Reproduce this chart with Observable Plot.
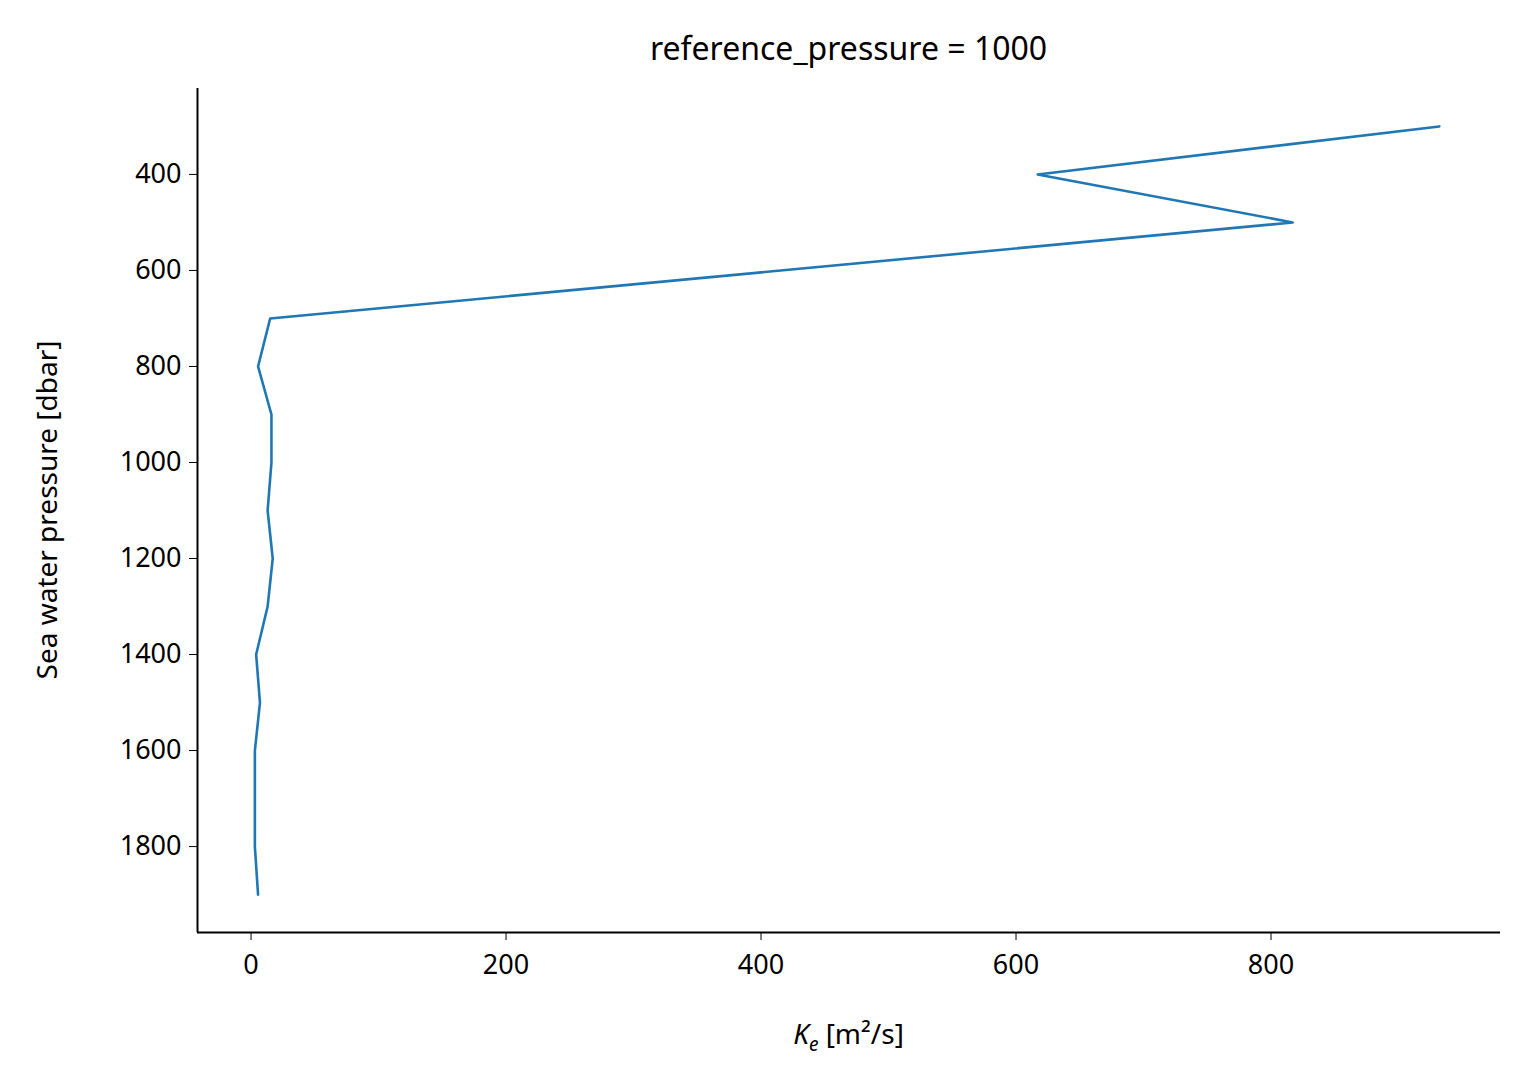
<!DOCTYPE html>
<html><head><meta charset="utf-8">
<script src="https://cdn.jsdelivr.net/npm/d3@7"></script>
<script src="https://cdn.jsdelivr.net/npm/@observablehq/plot@0.6"></script>
<style>
body{margin:0;background:#fff;font-family:"Noto Sans",sans-serif;}
#wrap{position:relative;width:1526px;height:1085px;}
.t{position:absolute;color:#000;white-space:nowrap;}
</style></head><body>
<div id="wrap">
<div class="t" id="title" style="left:0;width:1697px;text-align:center;top:26px;font-size:32px;">reference_pressure = 1000</div>
<div class="t" style="left:0;width:1697px;text-align:center;top:1014px;font-size:28px;"><i>K</i><sub style="font-size:19px;"><i>e</i></sub> [m²/s]</div>
<div class="t" style="left:46px;top:510px;font-size:28px;transform:translate(-50%,-50%) rotate(-90deg);">Sea water pressure [dbar]</div>
</div>
<script>
const pressure = [300,400,500,700,800,900,1000,1100,1200,1300,1400,1500,1600,1700,1800,1900];
const ke = [932,617,817,15,5.5,16,16,13,17,13,4,7,3,3,3,5.5];
const xTicks = [0,200,400,600,800];
const yTicks = [400,600,800,1000,1200,1400,1600,1800];
const xDomain = [-42,980];
const yDomain = [221,1979];
const data = pressure.map((p,i)=>({p, k: ke[i]}));
const fmt = d3.format("d");
const chart = Plot.plot({
  width:1526, height:1085,
  marginLeft:197, marginRight:26, marginTop:88, marginBottom:153,
  style:{fontFamily:"Noto Sans, sans-serif", fontSize:"27px", color:"#000", background:"transparent"},
  x:{domain:xDomain, ticks:xTicks, label:null},
  y:{domain:yDomain, ticks:yTicks, label:null, reverse:true},
  marks:[
    Plot.axisX({ticks:xTicks, tickSize:8, tickPadding:14, label:null, fontSize:27, tickFormat:fmt}),
    Plot.axisY({ticks:yTicks, tickSize:8, tickPadding:8, label:null, fontSize:27, tickFormat:fmt}),
    Plot.ruleX([xDomain[0]], {stroke:"#000", strokeWidth:2}),
    Plot.ruleY([yDomain[1]], {stroke:"#000", strokeWidth:2}),
    Plot.line(data, {x:"k", y:"p", stroke:"#1f77b4", strokeWidth:2.6})
  ]
});
chart.style.position="absolute"; chart.style.left="0"; chart.style.top="0";
document.getElementById("wrap").prepend(chart);
</script>
</body></html>
